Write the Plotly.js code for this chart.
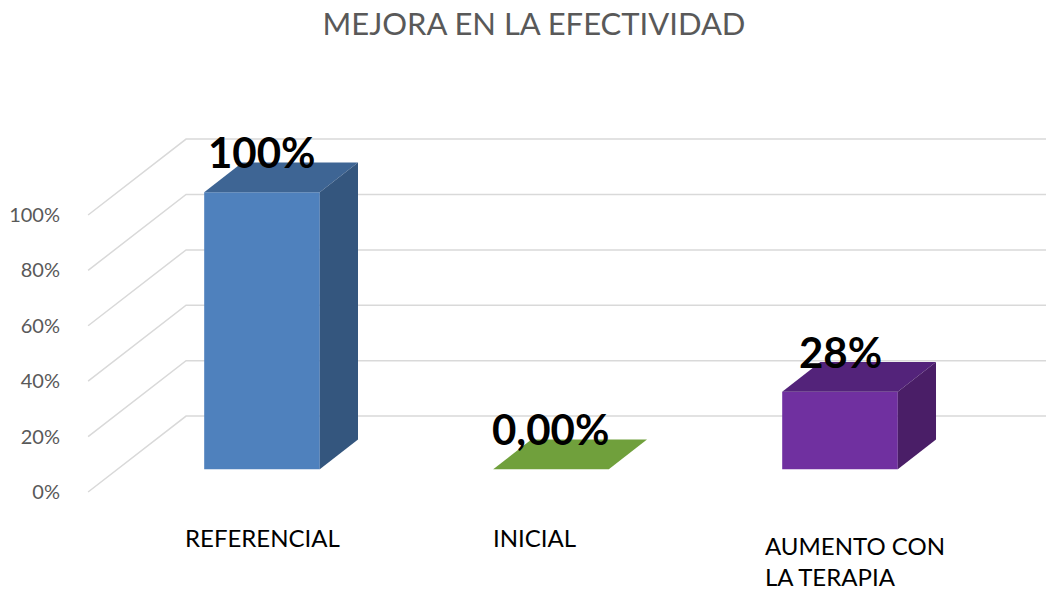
<!DOCTYPE html>
<html>
<head>
<meta charset="utf-8">
<script src="https://cdn.plot.ly/plotly-3.0.1.min.js"></script>
<style>
  html, body { margin: 0; padding: 0; background: #fff; }
  #chart { width: 1046px; height: 592px; }
</style>
</head>
<body>
<div id="chart"></div>
<script>
// chart data
const categories = ['REFERENCIAL', 'INICIAL', 'AUMENTO CON<br>LA TERAPIA'];
const values = [100, 0, 28];
const valueLabels = ['100%', '0,00%', '28%'];
const tickValues = [0, 20, 40, 60, 80, 100];
const tickLabels = ['0%', '20%', '40%', '60%', '80%', '100%'];

// colours per bar: front, top, side
const faceColors = [
    ['#4F81BD', '#3E6594', '#34567E'],
    ['#70A03C', '#70A03C', '#5A8030'],
    ['#7030A0', '#53237A', '#4A1E67']
];

// fake 3d: one unit of depth expressed in axis units
const depthX = 0.339;
const depthY = 27.4;
const frontZ = -0.3;   // where the axis labels start
const barZ = 0.39;     // bar depth
const wallZ = 0.7;     // back wall
const barWidth = 0.4;
const floorLeft = -0.5;
const floorRight = 2.5;

const traces = [];

// side wall + back wall gridlines
const gx = [], gy = [];
tickValues.forEach(t => {
    gx.push(floorLeft + frontZ * depthX, floorLeft + wallZ * depthX, floorRight + wallZ * depthX, null);
    gy.push(t + frontZ * depthY, t + wallZ * depthY, t + wallZ * depthY, null);
});
traces.push({
    type: 'scatter', mode: 'lines', x: gx, y: gy,
    line: { color: '#D9D9D9', width: 1.5 },
    hoverinfo: 'skip', showlegend: false
});

// bars drawn as three filled faces
values.forEach((v, i) => {
    const x0 = i - barWidth / 2, x1 = i + barWidth / 2;
    const dx = barZ * depthX, dy = barZ * depthY;
    const faces = [
        { x: [x0, x1, x1, x0, x0], y: [0, 0, v, v, 0] },
        { x: [x0, x1, x1 + dx, x0 + dx, x0], y: [v, v, v + dy, v + dy, v] },
        { x: [x1, x1 + dx, x1 + dx, x1, x1], y: [0, dy, v + dy, v, 0] }
    ];
    faces.forEach((f, k) => {
        traces.push({
            type: 'scatter', mode: 'lines', x: f.x, y: f.y,
            fill: 'toself', fillcolor: faceColors[i][k],
            line: { width: 0, color: faceColors[i][k] },
            hoverinfo: 'skip', showlegend: false
        });
    });
});

const annotations = [];
values.forEach((v, i) => {
    annotations.push({
        x: i, y: v, xref: 'x', yref: 'y', text: valueLabels[i],
        showarrow: false, xanchor: 'center', yanchor: 'middle', yshift: 40,
        font: { family: 'Lato', size: 42, color: '#000000', weight: 'bold' }
    });
});

// category labels sit on the front of the floor, a little uneven like the original
const labelShift = [[-79, -68], [-60, -68], [-77, -92]];
categories.forEach((c, i) => {
    annotations.push({
        x: i, y: 0, xref: 'x', yref: 'y', text: c,
        showarrow: false, xanchor: 'left', yanchor: 'middle', align: 'left',
        xshift: labelShift[i][0], yshift: labelShift[i][1],
        font: { family: 'Lato', size: 24, color: '#000000' }
    });
});

const layout = {
    width: 1046, height: 592,
    paper_bgcolor: '#ffffff', plot_bgcolor: '#ffffff',
    margin: { l: 87, r: 0, t: 90, b: 0 },
    title: {
        text: 'MEJORA EN LA EFECTIVIDAD',
        x: 0.5105, xref: 'container', xanchor: 'center',
        y: 0.96, yref: 'container', yanchor: 'middle',
        font: { family: 'Lato', size: 31, color: '#595959' }
    },
    xaxis: {
        range: [-0.6055, 2.7128], showgrid: false, zeroline: false,
        showticklabels: false, showline: false, fixedrange: true
    },
    yaxis: {
        range: [-44.33, 136.9], showgrid: false, zeroline: false, showline: false,
        tickvals: tickValues.map(t => t + frontZ * depthY), ticktext: tickLabels,
        ticks: 'outside', ticklen: 22, tickcolor: 'rgba(0,0,0,0)',
        tickfont: { family: 'Lato', size: 20, color: '#595959' },
        fixedrange: true
    },
    annotations: annotations,
    showlegend: false
};

Plotly.newPlot('chart', traces, layout, { displayModeBar: false, staticPlot: true });
</script>
</body>
</html>
